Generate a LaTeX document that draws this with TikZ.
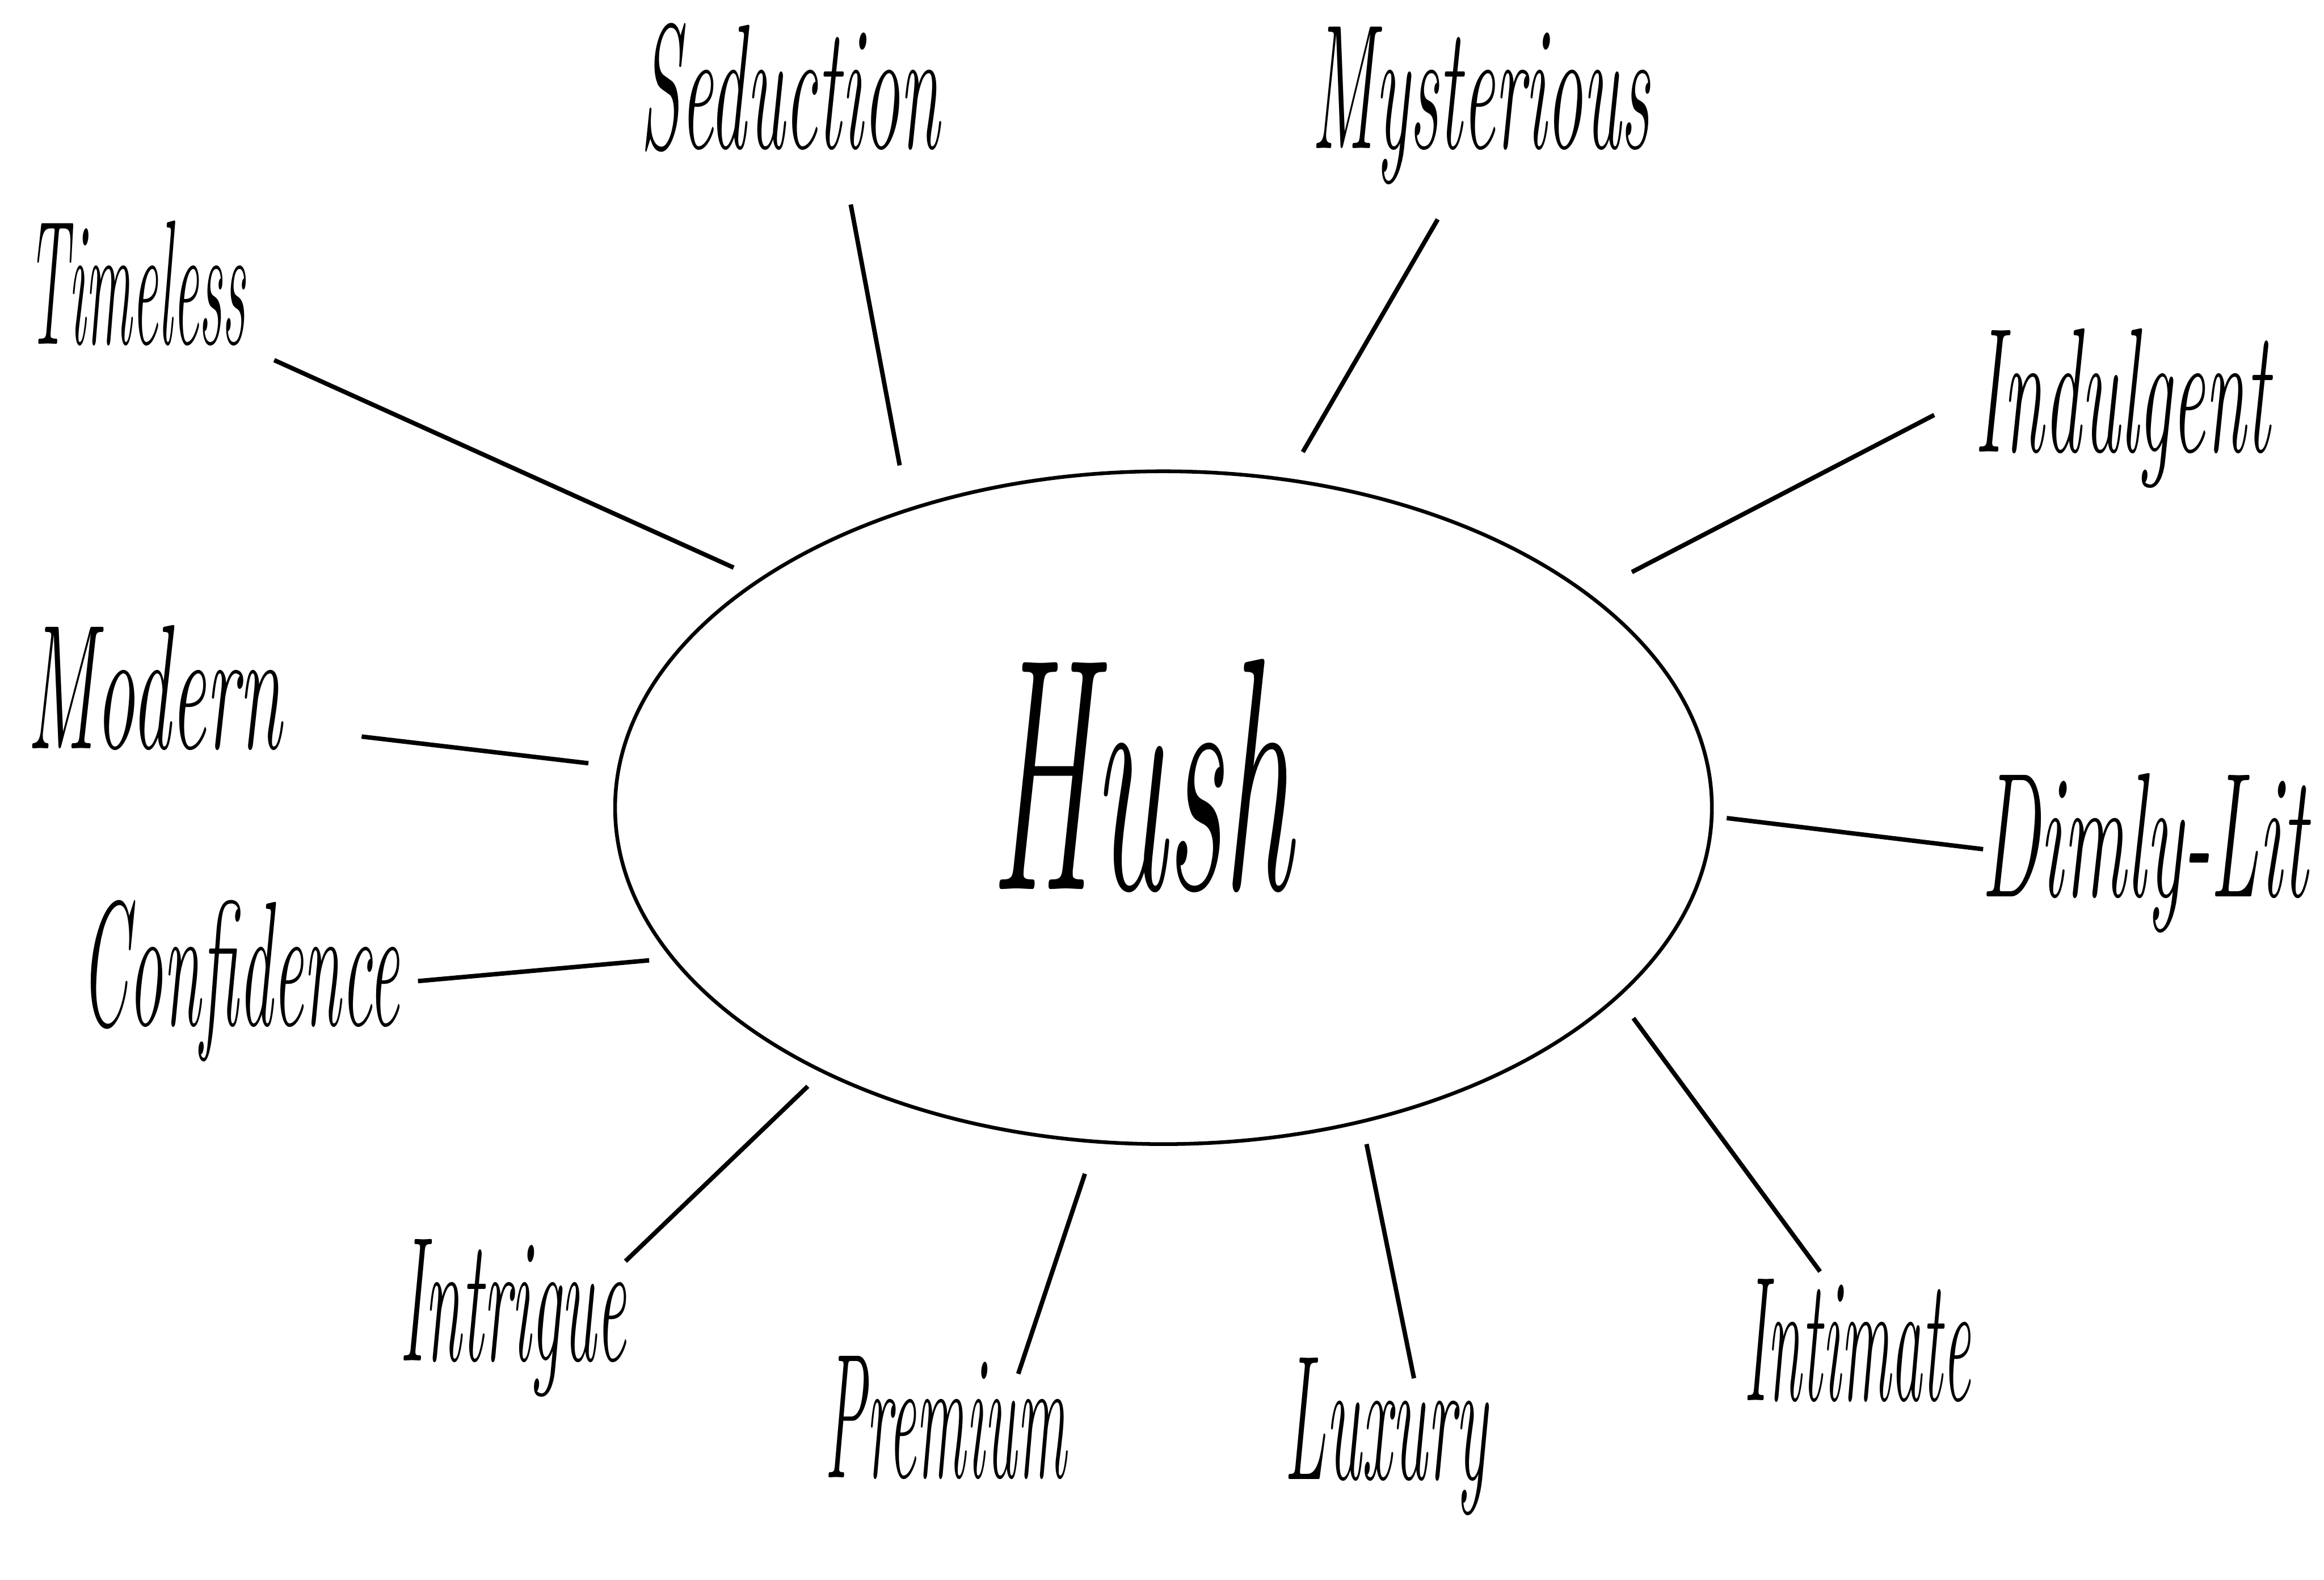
\documentclass[tikz,border=0pt]{standalone}
\usetikzlibrary{shapes.geometric}
\newcommand\fitw[2]{\resizebox{#1}{\height}{#2}}
\begin{document}
\begin{tikzpicture}[x=0.5pt,y=-0.5pt,
  word/.style={font=\fontsize{60}{60}\selectfont\itshape, inner sep=0pt, anchor=base},
  spoke/.style={line width=1.5pt, line cap=butt}]
\fill[white] (0,0) rectangle (1568,1066);
\useasboundingbox (0,0) rectangle (1568,1066);
% hub
\node[draw, ellipse, line width=1.25pt, minimum width=370pt, minimum height=227pt, inner sep=0pt] (hub) at (785,545) {};
\node[font=\fontsize{112}{112}\selectfont\itshape, inner sep=0pt, anchor=base] (hush) at (770,600) {\fitw{102pt}{Hush}};
% words
\node[word] (seduction) at (533,100) {\fitw{101pt}{Seduction}};
\node[word] (mysterious) at (999,100) {\fitw{114pt}{Mysterious}};
\node[word] (timeless) at (92,232) {\fitw{73.5pt}{Timeless}};
\node[word] (indulgent) at (1432,305) {\fitw{99.5pt}{Indulgent}};
\node[word] (modern) at (104,505) {\fitw{86pt}{Modern}};
\node[word] (dimly) at (1447,605) {\fitw{110pt}{Dimly-Lit}};
\node[word] (confidence) at (162,692) {\fitw{107.5pt}{Confidence}};
\node[word] (intrigue) at (346,918) {\fitw{76.5pt}{Intrigue}};
\node[word] (premium) at (638,997) {\fitw{81.5pt}{Premium}};
\node[word] (luxury) at (935,998) {\fitw{68.5pt}{Luxury}};
\node[word] (intimate) at (1253,945) {\fitw{76.5pt}{Intimate}};
% spoke ends
\coordinate (t1) at (185,243);  \coordinate (t2) at (495,383);
\coordinate (s1) at (574,138);  \coordinate (s2) at (607,314);
\coordinate (m1) at (970,148);  \coordinate (m2) at (879,305);
\coordinate (i1) at (1305,280); \coordinate (i2) at (1101,386);
\coordinate (o1) at (244,497);  \coordinate (o2) at (397,515);
\coordinate (d1) at (1165,552); \coordinate (d2) at (1338,573);
\coordinate (c1) at (282,662);  \coordinate (c2) at (438,648);
\coordinate (g1) at (545,733);  \coordinate (g2) at (422,851);
\coordinate (p1) at (732,792);  \coordinate (p2) at (687,927);
\coordinate (l1) at (922,772);  \coordinate (l2) at (954,930);
\coordinate (n1) at (1102,687); \coordinate (n2) at (1228,858);
\draw[spoke] (t1) -- (t2);
\draw[spoke] (s1) -- (s2);
\draw[spoke] (m1) -- (m2);
\draw[spoke] (i1) -- (i2);
\draw[spoke] (o1) -- (o2);
\draw[spoke] (d1) -- (d2);
\draw[spoke] (c1) -- (c2);
\draw[spoke] (g1) -- (g2);
\draw[spoke] (p1) -- (p2);
\draw[spoke] (l1) -- (l2);
\draw[spoke] (n1) -- (n2);
\end{tikzpicture}
\end{document}
